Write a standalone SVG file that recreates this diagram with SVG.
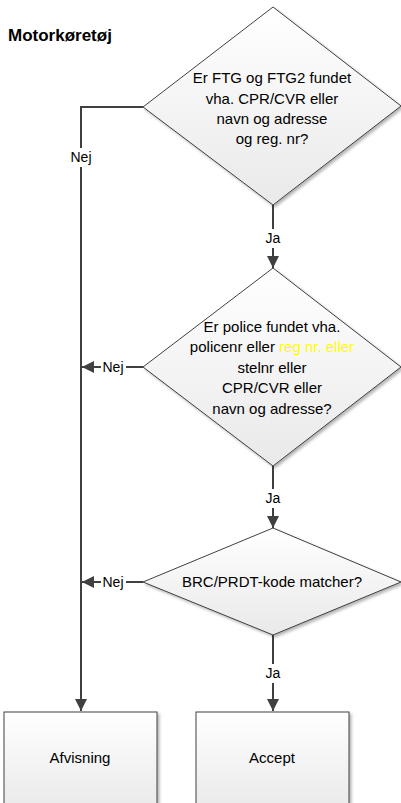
<svg xmlns="http://www.w3.org/2000/svg" width="401" height="803" viewBox="0 0 401 803">
<defs>
<linearGradient id="g" x1="0" y1="0" x2="0" y2="1">
<stop offset="0" stop-color="#ffffff"/>
<stop offset="1" stop-color="#e9e9e9"/>
</linearGradient>
<filter id="sh" x="-10%" y="-10%" width="130%" height="130%">
<feGaussianBlur in="SourceAlpha" stdDeviation="1.5"/>
<feOffset dx="2" dy="2" result="b"/>
<feComponentTransfer><feFuncA type="linear" slope="0.3"/></feComponentTransfer>
<feMerge><feMergeNode/><feMergeNode in="SourceGraphic"/></feMerge>
</filter>
<marker id="arr" viewBox="0 0 10 10" refX="10" refY="5" markerWidth="6" markerHeight="6" orient="auto" markerUnits="strokeWidth">
<path d="M0,0 L10,5 L0,10 z" fill="#404040"/>
</marker>
</defs>
<style>
.shape{fill:url(#g);stroke:#404040;stroke-width:1;filter:url(#sh)}
.t{font-family:"Liberation Sans",Arial,sans-serif;font-size:15px;fill:#000;text-anchor:middle}
.c{fill:none;stroke:#404040;stroke-width:2}
.lbl{font-family:"Liberation Sans",Arial,sans-serif;font-size:14px;fill:#000;text-anchor:middle}
.bg{fill:#fff}
.y{fill:#ffff00}
</style>
<rect width="401" height="803" fill="#fff"/>
<text x="8" y="41" style="font-family:'Liberation Sans',Arial,sans-serif;font-size:17px;font-weight:bold" fill="#000">Motorkøretøj</text>

<g id="connectors">
<path class="c" d="M273,205 V268" marker-end="url(#arr)"/>
<rect class="bg" x="261" y="229" width="24" height="19"/>
<text class="lbl" x="273" y="243">Ja</text>
<path class="c" d="M273,466 V528" marker-end="url(#arr)"/>
<rect class="bg" x="261" y="489" width="24" height="19"/>
<text class="lbl" x="273" y="503">Ja</text>
<path class="c" d="M273,635 V711" marker-end="url(#arr)"/>
<rect class="bg" x="261" y="664" width="24" height="19"/>
<text class="lbl" x="273" y="678">Ja</text>
<path class="c" d="M143,107 H81 V711" marker-end="url(#arr)"/>
<rect class="bg" x="67" y="148" width="28" height="19"/>
<text class="lbl" x="81" y="162">Nej</text>
<path class="c" d="M143,367 H82" marker-end="url(#arr)"/>
<rect class="bg" x="101" y="358" width="25" height="19"/>
<text class="lbl" x="113" y="372">Nej</text>
<path class="c" d="M143,582 H82" marker-end="url(#arr)"/>
<rect class="bg" x="101" y="573" width="25" height="19"/>
<text class="lbl" x="113" y="587">Nej</text>
</g>

<g id="d1">
<polygon class="shape" points="273,7 401,106 273,205 143,107"/>
<text class="t" x="272" y="83">Er FTG og FTG2 fundet</text>
<text class="t" x="272" y="104">vha. CPR/CVR eller</text>
<text class="t" x="272" y="124">navn og adresse</text>
<text class="t" x="272" y="144">og reg. nr?</text>
</g>

<g id="d2">
<polygon class="shape" points="273,268 401,367 273,466 143,367"/>
<text class="t" x="272" y="332">Er police fundet vha.</text>
<text class="t" x="272" y="352">policenr eller <tspan class="y">reg nr. eller</tspan></text>
<text class="t" x="272" y="373">stelnr eller</text>
<text class="t" x="272" y="393">CPR/CVR eller</text>
<text class="t" x="272" y="414">navn og adresse?</text>
</g>

<g id="d3">
<polygon class="shape" points="273,528 401,582 273,635 143,582"/>
<text class="t" x="272" y="587">BRC/PRDT-kode matcher?</text>
</g>

<g id="afvisning">
<rect class="shape" x="4" y="712" width="153" height="100"/>
<text class="t" x="80" y="763">Afvisning</text>
</g>

<g id="accept">
<rect class="shape" x="196" y="712" width="153" height="100"/>
<text class="t" x="272" y="763">Accept</text>
</g>
</svg>
